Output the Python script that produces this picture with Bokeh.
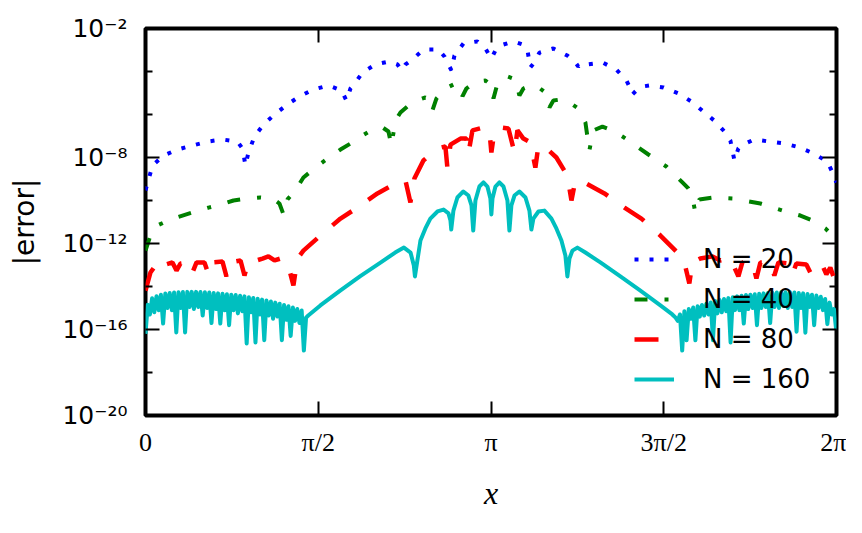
import numpy as np
from bokeh.plotting import figure
from bokeh.models import Range1d, FixedTicker, LinearAxis, LogAxis, Legend, LegendItem
from bokeh.embed import file_html
from bokeh.resources import INLINE

PI = np.pi

# ---- axis ticks / labels ----
x_ticks = [0.0, PI / 2, PI, 3 * PI / 2, 2 * PI]
x_tick_labels = ["0", "\u03c0/2", "\u03c0", "3\u03c0/2", "2\u03c0"]
y_major = [1e-20, 1e-16, 1e-12, 1e-8, 1e-2]
y_tick_labels = ["10\u207b\u00b2\u2070", "10\u207b\u00b9\u2076", "10\u207b\u00b9\u00b2",
                 "10\u207b\u2078", "10\u207b\u00b2"]
y_minor = [1e-18, 1e-14, 1e-10, 1e-6, 1e-4]

series_labels = ["N = 20", "N = 40", "N = 80", "N = 160"]

# ---- data: x in radians, error given as log10(|error|) ----
x_n20 = [0.000, 0.064, 0.164, 0.291, 0.427, 0.564, 0.700, 0.836, 0.882, 0.909, 0.936, 0.991,
         1.073, 1.173, 1.291, 1.400, 1.527, 1.664, 1.782, 1.827, 1.864, 1.891, 1.973, 2.091,
         2.218, 2.291, 2.327, 2.364, 2.427, 2.527, 2.664, 2.718, 2.782, 2.809, 2.891, 3.018,
         3.091, 3.145, 3.182, 3.227, 3.345, 3.427, 3.473, 3.500, 3.536, 3.582, 3.709, 3.836,
         3.909, 3.936, 3.964, 4.018, 4.155, 4.282, 4.373, 4.409, 4.427, 4.464, 4.518, 4.582,
         4.709, 4.845, 4.964, 5.073, 5.182, 5.273, 5.318, 5.355, 5.391, 5.418, 5.536, 5.673,
         5.809, 5.945, 6.073, 6.200, 6.255, 6.282]
lg_n20 = [-9.53, -8.37, -7.91, -7.63, -7.44, -7.26, -7.16, -7.26, -7.58, -8.37, -7.77, -7.02,
          -6.47, -6.00, -5.53, -5.16, -4.84, -4.65, -4.88, -5.35, -4.79, -4.65, -4.05, -3.67,
          -3.53, -3.67, -3.95, -3.67, -3.44, -2.98, -2.98, -3.30, -3.95, -3.26, -2.70, -2.60,
          -2.93, -3.40, -3.02, -2.79, -2.60, -2.74, -3.02, -3.81, -3.58, -3.12, -2.93, -3.26,
          -3.58, -3.77, -3.63, -3.67, -3.58, -3.91, -4.42, -4.79, -5.07, -4.88, -4.70, -4.65,
          -4.74, -5.02, -5.40, -5.86, -6.33, -6.84, -7.21, -8.14, -7.58, -7.44, -7.16, -7.26,
          -7.35, -7.53, -7.81, -8.19, -8.79, -9.16]

x_n40 = [0.000, 0.045, 0.109, 0.227, 0.336, 0.455, 0.573, 0.682, 0.800, 0.927, 1.045, 1.155,
         1.218, 1.255, 1.291, 1.364, 1.436, 1.545, 1.655, 1.773, 1.864, 1.973, 2.064, 2.155,
         2.209, 2.236, 2.273, 2.318, 2.391, 2.464, 2.545, 2.591, 2.609, 2.645, 2.727, 2.818,
         2.864, 2.882, 2.918, 3.000, 3.091, 3.136, 3.164, 3.200, 3.291, 3.364, 3.400, 3.436,
         3.500, 3.564, 3.636, 3.673, 3.709, 3.773, 3.845, 3.936, 4.000, 4.036, 4.073, 4.155,
         4.245, 4.336, 4.455, 4.573, 4.736, 4.882, 4.936, 4.973, 5.000, 5.036, 5.164, 5.345,
         5.591, 5.818, 5.955, 6.064, 6.182, 6.245, 6.282]
lg_n40 = [-12.33, -11.63, -11.16, -10.88, -10.70, -10.51, -10.33, -10.19, -10.00, -9.91, -9.86, -9.91,
          -10.14, -10.65, -9.95, -9.53, -8.93, -8.47, -8.05, -7.63, -7.35, -6.98, -6.70, -6.60,
          -6.79, -7.44, -6.28, -5.91, -5.58, -5.35, -5.21, -5.30, -5.81, -5.26, -4.79, -4.56,
          -4.70, -5.16, -4.79, -4.47, -4.42, -4.60, -5.26, -4.56, -4.23, -4.37, -5.12, -4.79,
          -4.65, -4.70, -4.98, -5.67, -5.35, -5.30, -5.40, -5.72, -6.37, -7.67, -6.74, -6.56,
          -6.74, -7.02, -7.44, -7.86, -8.42, -9.16, -9.44, -9.86, -10.56, -9.95, -9.86, -9.91,
          -10.14, -10.51, -10.70, -10.93, -11.30, -11.63, -12.09]

x_n80 = [0.000, 0.045, 0.091, 0.136, 0.182, 0.245, 0.282, 0.318, 0.391, 0.427, 0.464, 0.536,
         0.573, 0.609, 0.700, 0.736, 0.773, 0.864, 0.900, 0.936, 1.009, 1.064, 1.118, 1.173,
         1.227, 1.291, 1.345, 1.382, 1.436, 1.591, 1.773, 1.927, 2.109, 2.273, 2.364, 2.409,
         2.445, 2.527, 2.655, 2.727, 2.745, 2.773, 2.864, 2.918, 2.936, 2.973, 3.073, 3.127,
         3.145, 3.173, 3.227, 3.300, 3.355, 3.382, 3.436, 3.500, 3.545, 3.573, 3.636, 3.736,
         3.836, 3.873, 3.909, 4.009, 4.173, 4.355, 4.509, 4.682, 4.836, 4.900, 4.945, 4.973,
         5.045, 5.155, 5.227, 5.318, 5.391, 5.427, 5.518, 5.555, 5.591, 5.682, 5.718, 5.755,
         5.845, 5.882, 5.918, 6.009, 6.045, 6.082, 6.155, 6.191, 6.227, 6.283]
lg_n80 = [-14.19, -13.35, -13.02, -13.26, -12.98, -12.88, -13.26, -12.93, -12.88, -13.35, -12.88, -12.88,
          -13.44, -12.88, -12.84, -13.53, -12.88, -12.79, -13.49, -12.84, -12.79, -12.70, -12.60, -12.79,
          -12.70, -12.88, -13.95, -12.70, -12.33, -11.63, -10.84, -10.33, -9.67, -9.21, -9.07, -10.09,
          -8.98, -8.14, -7.58, -7.49, -8.47, -7.40, -7.12, -7.12, -7.81, -6.74, -6.60, -6.74,
          -7.77, -6.74, -6.60, -6.65, -7.77, -6.74, -7.12, -7.30, -8.47, -7.44, -7.53, -8.00,
          -8.84, -10.00, -9.07, -9.21, -9.67, -10.33, -10.84, -11.63, -12.42, -12.88, -13.86, -12.88,
          -12.70, -12.60, -12.79, -12.70, -13.53, -12.88, -12.88, -13.63, -12.88, -12.88, -13.49, -12.88,
          -12.93, -13.44, -12.93, -12.98, -13.35, -12.98, -13.02, -13.44, -13.12, -13.95]

x_n160 = [0.00, 0.02, 0.04, 0.06, 0.08, 0.10, 0.12, 0.14, 0.16, 0.18, 0.20, 0.22,
          0.24, 0.26, 0.28, 0.30, 0.32, 0.34, 0.36, 0.38, 0.40, 0.42, 0.44, 0.46,
          0.48, 0.50, 0.52, 0.54, 0.56, 0.58, 0.60, 0.62, 0.64, 0.66, 0.68, 0.70,
          0.72, 0.74, 0.76, 0.78, 0.80, 0.82, 0.84, 0.86, 0.88, 0.90, 0.92, 0.94,
          0.96, 0.98, 1.00, 1.02, 1.04, 1.06, 1.08, 1.10, 1.12, 1.14, 1.16, 1.18,
          1.20, 1.22, 1.24, 1.26, 1.28, 1.30, 1.32, 1.34, 1.36, 1.38, 1.40, 1.42,
          1.44, 1.46, 1.48,
          1.59, 1.77, 1.95, 2.14, 2.27, 2.35, 2.41, 2.44, 2.45, 2.50,
          2.545, 2.59, 2.655, 2.71, 2.755, 2.773, 2.78, 2.80, 2.836, 2.89, 2.936, 2.964,
          2.98, 3.00, 3.036, 3.073, 3.109, 3.136, 3.145, 3.155, 3.182, 3.218, 3.255, 3.291,
          3.309, 3.327, 3.355, 3.40, 3.455, 3.491, 3.509, 3.527, 3.573, 3.627, 3.691, 3.736,
          3.782, 3.818, 3.836, 3.855, 3.882, 3.927, 4.00, 4.136, 4.318, 4.50, 4.682, 4.79,
          4.82,
          4.84, 4.86, 4.88, 4.90, 4.92, 4.94, 4.96, 4.98, 5.00, 5.02, 5.04, 5.06,
          5.08, 5.10, 5.12, 5.14, 5.16, 5.18, 5.20, 5.22, 5.24, 5.26, 5.28, 5.30,
          5.32, 5.34, 5.36, 5.38, 5.40, 5.42, 5.44, 5.46, 5.48, 5.50, 5.52, 5.54,
          5.56, 5.58, 5.60, 5.62, 5.64, 5.66, 5.68, 5.70, 5.72, 5.74, 5.76, 5.78,
          5.80, 5.82, 5.84, 5.86, 5.88, 5.90, 5.92, 5.94, 5.96, 5.98, 6.00, 6.02,
          6.04, 6.06, 6.08, 6.10, 6.12, 6.14, 6.16, 6.18, 6.20, 6.22, 6.24, 6.26,
          6.28]
lg_n160 = [-16.20, -14.85, -15.30, -14.55, -15.20, -14.45, -15.10, -14.38, -15.72, -14.33, -15.00, -14.30,
           -15.10, -14.28, -16.14, -14.27, -15.00, -14.26, -16.14, -14.25, -14.95, -14.25, -15.05, -14.25,
           -14.95, -14.26, -15.35, -14.27, -15.00, -14.28, -15.70, -14.30, -15.05, -14.32, -15.72, -14.34,
           -15.10, -14.36, -15.80, -14.38, -15.10, -14.40, -15.25, -14.43, -15.15, -14.46, -16.65, -14.50,
           -15.20, -14.53, -16.60, -14.57, -15.30, -14.61, -16.50, -14.65, -15.35, -14.70, -15.50, -14.75,
           -15.40, -14.80, -16.50, -14.86, -15.55, -14.92, -16.30, -14.98, -15.60, -15.05, -15.70, -15.12,
           -16.98, -15.45, -15.35,
           -14.88, -14.19, -13.53, -12.88, -12.42, -12.19, -12.42, -13.02, -13.53, -11.86,
           -11.30, -10.84, -10.51, -10.42, -10.60, -10.93, -11.35, -10.47, -9.86, -9.58, -9.77, -10.23,
           -11.40, -10.00, -9.35, -9.16, -9.35, -9.91, -10.65, -9.91, -9.35, -9.16, -9.35, -10.00,
           -11.40, -10.23, -9.77, -9.58, -9.86, -10.47, -11.35, -10.84, -10.51, -10.47, -10.84, -11.30,
           -11.86, -12.56, -13.53, -12.70, -12.33, -12.19, -12.42, -12.88, -13.53, -14.19, -14.88, -15.30,
           -15.45,
           -15.60, -15.30, -16.98, -15.15, -16.50, -15.05, -15.50, -14.98, -16.50, -14.92, -15.40, -14.86,
           -15.35, -14.80, -15.30, -14.74, -16.50, -14.68, -15.25, -14.63, -15.20, -14.58, -15.15, -14.54,
           -16.60, -14.50, -15.10, -14.46, -15.10, -14.43, -15.72, -14.40, -15.05, -14.38, -15.00, -14.36,
           -15.80, -14.34, -15.00, -14.32, -14.95, -14.30, -15.70, -14.29, -14.95, -14.28, -15.00, -14.27,
           -14.90, -14.27, -15.00, -14.27, -14.95, -14.28, -16.10, -14.30, -15.00, -14.32, -16.15, -14.35,
           -14.95, -14.38, -15.80, -14.42, -15.00, -14.48, -15.10, -14.58, -15.75, -14.75, -15.30, -15.05,
           -16.00]

p = figure(frame_width=691, frame_height=387,
           x_range=Range1d(0, 2 * PI), y_range=Range1d(1e-20, 1e-2),
           y_axis_type="log", output_backend="svg", toolbar_location=None,
           min_border_left=145, min_border_top=28, min_border_right=10, min_border_bottom=92)
p.background_fill_color = "white"
p.border_fill_color = "white"
p.xgrid.visible = False
p.ygrid.visible = False
p.outline_line_color = "black"
p.outline_line_width = 4

x_over = {t: l for t, l in zip(x_ticks, x_tick_labels)}
y_over = {t: l for t, l in zip(y_major, y_tick_labels)}


def style_axis(ax, major_len, minor_len):
    ax.axis_line_color = None
    ax.major_tick_in = major_len
    ax.major_tick_out = 0
    ax.minor_tick_in = minor_len
    ax.minor_tick_out = 0
    ax.major_tick_line_color = "black"
    ax.minor_tick_line_color = "black"
    ax.major_tick_line_width = 2
    ax.minor_tick_line_width = 2


xb = p.xaxis[0]
xb.ticker = FixedTicker(ticks=x_ticks, minor_ticks=[])
style_axis(xb, 14, 0)
xb.major_label_overrides = x_over
xb.major_label_text_font = "Liberation Serif"
xb.major_label_text_font_size = "26px"
xb.major_label_text_color = "black"
xb.major_label_standoff = 12
xb.axis_label = "x"
xb.axis_label_text_font = "Liberation Serif"
xb.axis_label_text_font_style = "italic"
xb.axis_label_text_font_size = "32px"
xb.axis_label_text_color = "black"
xb.axis_label_standoff = 15

yl = p.yaxis[0]
yl.ticker = FixedTicker(ticks=y_major, minor_ticks=y_minor)
style_axis(yl, 14, 7)
yl.major_label_overrides = y_over
yl.major_label_text_font = "DejaVu Sans"
yl.major_label_text_font_size = "25px"
yl.major_label_text_color = "black"
yl.major_label_standoff = 18
yl.axis_label = "|error|"
yl.axis_label_text_font = "DejaVu Sans"
yl.axis_label_text_font_style = "normal"
yl.axis_label_text_font_size = "28px"
yl.axis_label_text_color = "black"
yl.axis_label_standoff = 18

xt = LinearAxis(ticker=FixedTicker(ticks=x_ticks, minor_ticks=[]))
style_axis(xt, 14, 0)
xt.major_label_overrides = {t: "" for t in x_ticks}
xt.major_label_standoff = 0
p.add_layout(xt, "above")

yr = LogAxis(ticker=FixedTicker(ticks=y_major, minor_ticks=y_minor))
style_axis(yr, 14, 7)
yr.major_label_overrides = {t: "" for t in y_major}
yr.major_label_standoff = 0
p.add_layout(yr, "right")

r20 = p.line(x_n20, 10 ** np.array(lg_n20), line_color="#0000ff", line_width=4, line_dash="4 11")
r40 = p.line(x_n40, 10 ** np.array(lg_n40), line_color="#008000", line_width=4, line_dash="13 17 4 17")
r80 = p.line(x_n80, 10 ** np.array(lg_n80), line_color="#ff0000", line_width=4.5, line_dash="24 20")
r160 = p.line(x_n160, 10 ** np.array(lg_n160), line_color="#00bfbf", line_width=4, line_join="round")

legend = Legend(items=[LegendItem(label=series_labels[0], renderers=[r20]),
                       LegendItem(label=series_labels[1], renderers=[r40]),
                       LegendItem(label=series_labels[2], renderers=[r80]),
                       LegendItem(label=series_labels[3], renderers=[r160])],
                location=(489, 21))
legend.border_line_color = None
legend.background_fill_alpha = 0
legend.padding = 0
legend.margin = 0
legend.spacing = 10
legend.glyph_width = 40
legend.glyph_height = 30
legend.label_height = 30
legend.label_standoff = 29
legend.label_text_font = "DejaVu Sans"
legend.label_text_font_size = "26px"
legend.label_text_color = "black"
p.add_layout(legend)

open("out.html", "w", encoding="utf-8").write(file_html(p, INLINE))
